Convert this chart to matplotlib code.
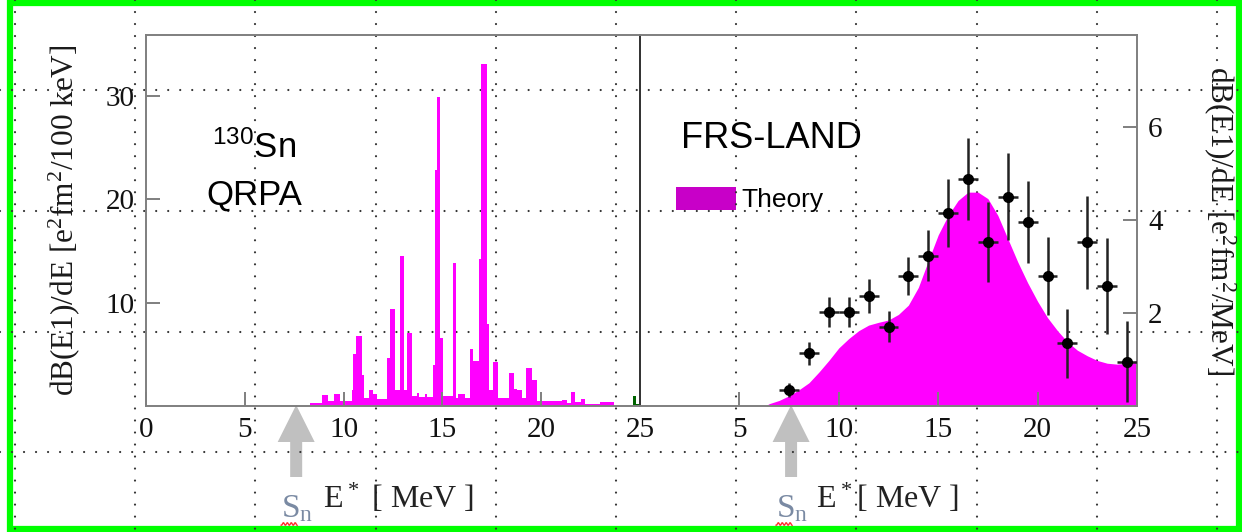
import numpy as np
import matplotlib
matplotlib.use('Agg')
import matplotlib.pyplot as plt
from matplotlib.patches import Rectangle, FancyArrow

# ---- data ----------------------------------------------------------------
# left panel: QRPA strength, dB(E1)/dE per 100 keV (stairs: edges -> heights)
qrpa_edges = [8.3, 8.9, 9.2, 9.5, 9.8, 10.4, 10.5, 10.65, 10.95, 11.05, 11.3,
              11.5, 11.7, 12.2, 12.35, 12.6, 12.86, 13.06, 13.2, 13.45, 13.7,
              13.8, 14.1, 14.2, 14.52, 14.63, 14.72, 14.89, 15.05, 15.53, 15.7,
              15.8, 16.14, 16.4, 16.57, 16.83, 16.95, 17.25, 17.38, 17.55,
              17.79, 18.35, 18.6, 18.77, 19.03, 19.25, 19.53, 19.81, 21.05,
              21.3, 21.5, 21.72, 22.0, 22.23, 22.99, 23.7]
qrpa_vals = [0.3, 1.05, 0.5, 1.2, 0.5, 1.5, 5.0, 6.8, 3.0, 0.8, 1.5,
             1.2, 0.7, 4.6, 9.4, 1.5, 14.5, 1.5, 7.1, 1.0, 1.3,
             0.9, 1.2, 0.9, 4.0, 22.8, 29.9, 6.6, 1.0, 13.8, 0.8,
             1.2, 0.8, 5.5, 4.4, 14.2, 33.1, 7.9, 1.5, 4.3,
             0.8, 3.2, 1.6, 1.5, 0.8, 3.7, 2.5, 0.5, 0.6,
             0.3, 1.4, 0.4, 0.7, 0.2, 0.35]
green_edges = [24.65, 24.8, 25.0]
green_vals = [1.0, 0.15]

# right panel: theory curve and FRS-LAND data, dB(E1)/dE per MeV
theory_e = [6.3, 6.5, 7.0, 7.5, 8.0, 8.5, 9.0, 9.5, 10.0, 10.5, 11.0, 11.5,
            12.0, 12.5, 13.0, 13.5, 14.0, 14.5, 15.0, 15.5, 16.0, 16.5, 17.0,
            17.5, 18.0, 18.5, 19.0, 19.5, 20.0, 20.5, 21.0, 21.5, 22.0, 22.5,
            23.0, 23.5, 24.0, 24.5, 25.0]
theory_y = [0.0, 0.05, 0.12, 0.22, 0.35, 0.5, 0.73, 0.98, 1.25, 1.45, 1.62,
            1.74, 1.8, 1.85, 1.97, 2.17, 2.55, 3.12, 3.68, 4.1, 4.42, 4.6,
            4.6, 4.46, 4.1, 3.6, 3.1, 2.65, 2.25, 1.9, 1.62, 1.38, 1.2, 1.08,
            0.98, 0.92, 0.9, 0.92, 0.98]
exp_e = [7.5, 8.5, 9.5, 10.5, 11.5, 12.5, 13.5, 14.5, 15.5, 16.5, 17.5, 18.5,
         19.5, 20.5, 21.5, 22.5, 23.5, 24.5]
exp_y = [0.34, 1.13, 2.03, 2.03, 2.37, 1.71, 2.80, 3.23, 4.16, 4.88, 3.52,
         4.50, 3.96, 2.80, 1.35, 3.52, 2.58, 0.95]
exp_err = [0.15, 0.25, 0.32, 0.32, 0.37, 0.33, 0.41, 0.55, 0.73, 0.88, 0.86,
           0.94, 0.89, 0.84, 0.74, 1.0, 1.04, 0.87]

left_xticks = [0, 5, 10, 15, 20, 25]
right_xticks = [5, 10, 15, 20, 25]
left_yticks = [10, 20, 30]
right_yticks = [2, 4, 6]
s_n = 7.6  # neutron separation energy arrow position (MeV)

# ---- style ---------------------------------------------------------------
plt.rcParams['font.family'] = ['Liberation Serif', 'DejaVu Serif']
plt.rcParams['mathtext.fontset'] = 'custom'
plt.rcParams['mathtext.rm'] = 'Liberation Serif'
plt.rcParams['mathtext.default'] = 'regular'
plt.rcParams['lines.scale_dashes'] = False

MAGENTA = '#ff00ff'
SPINE = '#7f7f7f'
W, H = 1242, 532

fig = plt.figure(figsize=(W / 100, H / 100), dpi=100)
fig.patch.set_facecolor('white')

# background layer in pixel coordinates (slide grid, arrows, labels)
bg = fig.add_axes([0, 0, 1, 1])
bg.set_xlim(0, W)
bg.set_ylim(H, 0)
bg.axis('off')
bg.set_zorder(0)

dots = dict(color='#333333', lw=1.6, ls=(0, (0.01, 8.64)), dash_capstyle='round')
for gx in np.arange(15, W, 120.2):
    bg.plot([gx, gx], [0, H], **dots)
for gy in [90, 211, 332, 452]:
    bg.plot([0, W], [gy, gy], **dots)

ax1 = fig.add_axes([146 / W, 126 / H, 494 / W, 371 / H])
ax2 = fig.add_axes([640 / W, 126 / H, 497 / W, 371 / H])
for ax in (ax1, ax2):
    ax.set_zorder(1)
    ax.set_facecolor('none')
    for sp in ax.spines.values():
        sp.set_color(SPINE)
        sp.set_linewidth(1.4)
    ax.set_xlim(0, 25)
    ax.tick_params(direction='in', length=10, width=1.4, color=SPINE,
                   labelsize=21, pad=8, labelcolor='#111111')

# left panel: QRPA histogram
ax1.stairs(qrpa_vals, qrpa_edges, fill=True, color=MAGENTA, lw=0)
ax1.stairs(green_vals, green_edges, fill=True, color='#006400', lw=0)
ax1.set_ylim(0, 35.9)
ax1.set_xticks(left_xticks)
ax1.set_yticks(left_yticks)

# right panel: theory + data
ax2.fill_between(theory_e, theory_y, 0, color=MAGENTA, lw=0)
ax2.errorbar(exp_e, exp_y, yerr=exp_err, xerr=0.5, fmt='o', color='black',
             ms=7, ecolor='#222222', elinewidth=1.8, capsize=0, zorder=3)
ax2.set_ylim(0, 7.98)
ax2.set_xticks(right_xticks)
ax2.set_yticks(right_yticks)
ax2.yaxis.tick_right()
ax2.spines['left'].set_color('#333333')

# axis titles
fig.text(64 / W, 1 - 220 / H, 'dB(E1)/dE [e$^2$fm$^2$/100 keV]', rotation=90,
         ha='center', va='center', fontsize=22.5, color='#1a1a1a')
fig.text(1220 / W, 1 - 221 / H, 'dB(E1)/dE [e$^2$fm$^2$/MeV]', rotation=-90,
         ha='center', va='center', fontsize=22.5, color='#1a1a1a')

sans = ['Liberation Sans', 'DejaVu Sans']
bg.text(212, 158, '$^{130}$Sn', family=sans, fontsize=25, ha='left', va='baseline')
bg.text(206, 205, 'QRPA', family=sans, fontsize=25, ha='left', va='baseline')
bg.text(681, 148, 'FRS-LAND', family=sans, fontsize=26, ha='left', va='baseline')
bg.add_patch(Rectangle((676, 187), 60, 23, color='#c800c8', lw=0))
bg.text(741, 207, 'Theory', family=sans, fontsize=19, ha='left', va='baseline')

# S_n arrows and energy axis titles
for ax, x_txt, e_lbl in ((ax1, 323, 'E$^*$ [ MeV ]'), (ax2, 816, 'E$^*$[ MeV ]')):
    px = bg.transData.inverted().transform(ax.transData.transform((s_n, 0)))[0]
    bg.add_patch(FancyArrow(px, 477, 0, -72, width=12, head_width=37,
                            head_length=37, length_includes_head=True,
                            color='#c0c0c0', lw=0))
    bg.text(x_txt, 508, e_lbl, fontsize=23, ha='left', va='baseline',
            color='#222222')
    bg.text(px - 15, 517, 'S$_{n}$', fontsize=24, ha='left', va='baseline',
            color='#7a8aa3')
    wx = np.linspace(px - 15, px + 1, 30)
    bg.plot(wx, 524 + 1.3 * np.sin((wx - px) * 1.6), color='#ff3030', lw=1)

# green slide border
bg.add_patch(Rectangle((10, 3), W - 13, H - 6, fill=False,
                       edgecolor='#00ff00', lw=4.5))

fig.savefig('out.png', dpi=100)
